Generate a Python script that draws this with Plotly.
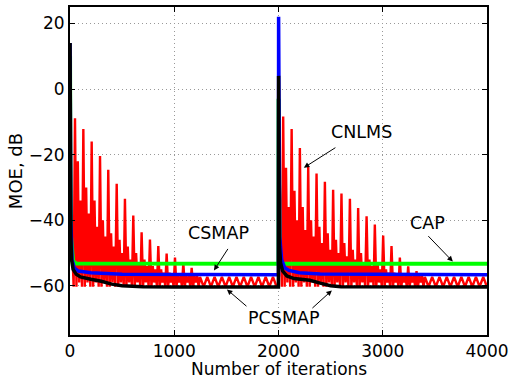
import plotly.graph_objects as go

# ---------------- data ----------------
# CNLMS (red) main oscillation peaks, segment 1 (iterations, dB)
red1_peak_it = [48, 128, 208, 288, 367, 448, 527, 607, 687, 767, 847, 927, 1007, 1087, 1167]
red1_peak_db = [-8.9, -12.2, -16.0, -20.4, -24.6, -28.9, -33.5, -38.6, -43.7, -45.9,
                -47.9, -50.2, -51.4, -53.0, -54.5]
red1_sub_a = [-22, -30, -34, -40, -44, -46, -48, -50, -52, -54, -55, -56, -57, -57, -57]
red1_sub_b = [-34, -38, -42, -45, -48, -50, -52, -53, -54, -55, -56, -57, -57, -57, -57]

# CNLMS (red) main oscillation peaks, segment 2
red2_peak_it = [2045, 2126, 2205, 2285, 2365, 2445, 2524, 2604, 2685, 2764, 2845, 2924,
                3004, 3084, 3164, 3244, 3324]
red2_peak_db = [-8.4, -12.2, -18.0, -23.6, -25.8, -28.3, -30.7, -31.9, -33.5, -36.3,
                -38.8, -41.3, -44.7, -47.9, -51.4, -54.1, -55.5]
red2_sub_a = [-24, -31, -36, -40, -42, -44, -46, -47, -49, -50, -52, -53, -55, -56, -57, -57, -57]
red2_sub_b = [-36, -40, -43, -45, -47, -49, -50, -51, -52, -53, -54, -55, -56, -57, -57, -57, -57]

red_valley_db = [-60.3, -59.0]
red_tail_db = [-57.3, -60.3]
red_start_db = [-30.0, -9.0]   # red level just at iteration 0 and 2000
seg_ends = [1999, 4000]

# Smooth learning curves: knots (iterations, dB)
black_it = [0, 0.5, 3, 8, 15, 30, 60, 100, 200, 300, 400, 500, 700, 1000, 1999,
            2000, 2001, 2005, 2010, 2020, 2040, 2080, 2150, 2300, 2400, 2500, 2600, 4000]
black_db = [-40, 14, -20, -45, -52, -55, -56.5, -57.3, -58.0, -58.6, -59.5, -60.0, -60.3, -60.4, -60.4,
            -60.4, 4, -30, -48, -53, -55.5, -57.0, -57.8, -58.3, -59.2, -60.0, -60.3, -60.4]

blue_it = [0, 0.5, 3, 8, 20, 40, 80, 200, 500, 1999,
           2000, 2001, 2005, 2012, 2030, 2060, 2100, 2200, 2400, 4000]
blue_db = [-40, 14, -20, -40, -52, -54.5, -55.5, -56.0, -56.5, -56.6,
           -56.6, 22, -20, -45, -52, -54.5, -55.3, -56.0, -56.4, -56.6]

green_it = [0, 0.5, 3, 10, 30, 60, 1999, 2000, 2001, 2005, 2012, 2030, 4000]
green_db = [-40, 10, -20, -45, -52.5, -53.2, -53.3, -53.3, -3, -40, -52, -53.2, -53.3]

x_ticks = [0, 1000, 2000, 3000, 4000]
y_ticks = [-60, -40, -20, 0, 20]


def red_segment(start, start_db, peak_it, peak_db, sub_a, sub_b, end):
    xs, ys = [start], [start_db]
    xs.append(peak_it[0] - 13)
    ys.append(red_valley_db[0])
    for i, (t, p) in enumerate(zip(peak_it, peak_db)):
        xs += [t, t + 14, t + 27, t + 40, t + 53, t + 67]
        ys += [p, red_valley_db[0], sub_a[i], red_valley_db[1], sub_b[i], red_valley_db[0]]
    t = peak_it[-1] + 80
    k = 0
    while t < end:
        xs.append(t)
        ys.append(red_tail_db[k % 2])
        t += 35
        k += 1
    xs.append(end)
    ys.append(red_tail_db[1])
    return xs, ys


rx1, ry1 = red_segment(0, red_start_db[0], red1_peak_it, red1_peak_db,
                       red1_sub_a, red1_sub_b, seg_ends[0])
rx2, ry2 = red_segment(2000, red_start_db[1], red2_peak_it, red2_peak_db,
                       red2_sub_a, red2_sub_b, seg_ends[1])
red_x = rx1 + rx2
red_y = ry1 + ry2

fig = go.Figure()
fig.add_trace(go.Scatter(x=red_x, y=red_y, mode="lines", line=dict(color="#ff0000", width=2.4),
                         name="CNLMS", showlegend=False))
fig.add_trace(go.Scatter(x=green_it, y=green_db, mode="lines", line=dict(color="#00ff00", width=4),
                         name="CAP", showlegend=False))
fig.add_trace(go.Scatter(x=blue_it, y=blue_db, mode="lines", line=dict(color="#0000ff", width=3.5),
                         name="CSMAP", showlegend=False))
fig.add_trace(go.Scatter(x=black_it, y=black_db, mode="lines", line=dict(color="#000000", width=3.5),
                         name="PCSMAP", showlegend=False))

FONT = "DejaVu Sans"

labels = [
    dict(text="CNLMS", x=2800, y=-13.1),
    dict(text="CSMAP", x=1429, y=-43.8),
    dict(text="CAP", x=3432, y=-40.7),
    dict(text="PCSMAP", x=2052, y=-69.9),
]
arrows = [
    ((2560, -17.6), (2243, -24.0)),
    ((1524, -48.3), (1381, -55.3)),
    ((3423, -44.4), (3672, -52.6)),
    ((1707, -66.6), (1505, -61.1)),
    ((2311, -67.2), (2512, -61.4)),
]
annotations = []
for lb in labels:
    annotations.append(dict(text=lb["text"], x=lb["x"], y=lb["y"], xref="x", yref="y",
                            showarrow=False, font=dict(family=FONT, size=17.5, color="black")))
for (tx, ty), (hx, hy) in arrows:
    annotations.append(dict(text="", x=hx, y=hy, ax=tx, ay=ty, xref="x", yref="y",
                            axref="x", ayref="y", showarrow=True, arrowhead=2,
                            arrowsize=1.1, arrowwidth=1, arrowcolor="black"))

# x-axis title anchored to the bottom edge of the picture, with a compact box
plot_h = 379 - 7 - 44
annotations.append(dict(text="Number of iterations", x=0.5, xref="paper",
                        y=-44 / plot_h, yref="paper", yanchor="bottom", height=16,
                        valign="middle", showarrow=False,
                        font=dict(family=FONT, size=17, color="black")))

fig.update_layout(
    width=511, height=379,
    margin=dict(l=70, r=24, t=7, b=44, autoexpand=False),
    paper_bgcolor="white", plot_bgcolor="white",
    font=dict(family=FONT, size=18, color="black"),
    showlegend=False,
    annotations=annotations,
)
grid_dash = "1px,3px"
fig.update_xaxes(range=[0, 4000], tickvals=x_ticks, ticks="inside", ticklen=5, tickwidth=1,
                 tickcolor="black", showline=True, linecolor="black", linewidth=2, mirror="ticks",
                 showgrid=True, gridcolor="#999999", griddash=grid_dash, gridwidth=1, zeroline=False,
                 tickfont=dict(family=FONT, size=17), ticklabeloverflow="allow")
fig.update_yaxes(range=[-75, 25], tickvals=y_ticks, ticks="inside", ticklen=5, tickwidth=1,
                 tickcolor="black", showline=True, linecolor="black", linewidth=2, mirror="ticks",
                 showgrid=True, gridcolor="#999999", griddash=grid_dash, gridwidth=1, zeroline=False,
                 tickfont=dict(family=FONT, size=17),
                 title=dict(text="MOE, dB", font=dict(family=FONT, size=18), standoff=1))

fig.write_html("out.html")
